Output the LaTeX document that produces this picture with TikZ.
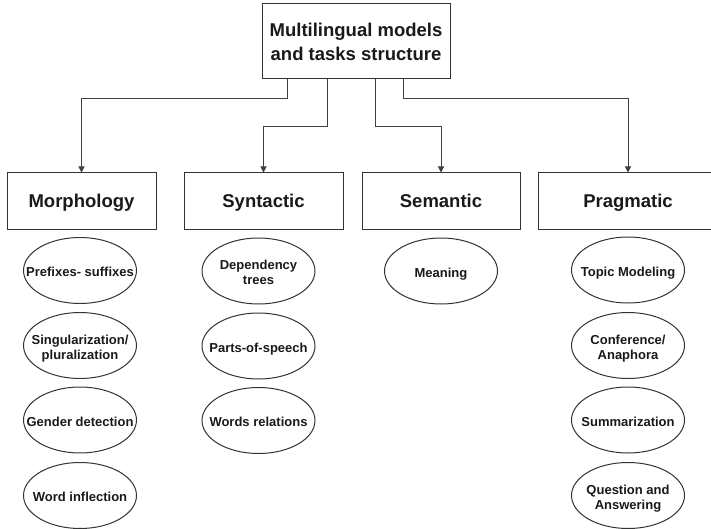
\documentclass[tikz,border=0pt]{standalone}
\usepackage{fontspec}
\setmainfont{Liberation Sans}
\usepackage{xcolor}
\usepackage{tikz}
\usetikzlibrary{arrows.meta,shapes.geometric}
\newcommand*{\headstyle}{\fontsize{18.5}{24}\selectfont\bfseries\color{black!90}}
\newcommand*{\ovalstyle}{\fontsize{13}{15}\selectfont\bfseries\color{black!90}}
\newcommand{\ovalnode}[4]{%
% name, x, y, text (lines split by \\)
  \node[oval] (#1) at (#2,#3)
    {\raisebox{-6pt}[0pt][0pt]{\makebox[0pt]{\begin{tabular}{@{}c@{}}#4\end{tabular}}}};
}
\tikzset{
  topbox/.style = {draw = black!80, line width = 1pt, font = \headstyle,
    align = center, minimum width = 188pt, minimum height = 75pt},
  levelbox/.style = {draw = black!80, line width = 1pt, font = \headstyle,
    text height = 17pt, text depth = 4pt, minimum height = 56pt},
  oval/.style = {ellipse, draw = black!80, line width = 1pt, font = \ovalstyle,
    inner sep = 0pt, minimum width = 113pt, minimum height = 66pt},
  conn/.style = {draw = black!75, line width = 1pt,
    -{Triangle[length = 6pt, width = 6pt]}}
}

\begin{document}
\begin{tikzpicture}[x = 1pt, y = -1pt]
    \useasboundingbox (0,0) rectangle (711,529);
    % root
    \node[topbox] (root) at (356,41.5) {Multilingual models\\and tasks structure};
    % the four levels
    \node[levelbox, minimum width = 149pt] (morph) at (81.5,201) {Morphology};
    \node[levelbox, minimum width = 159pt] (synt) at (263.5,201) {Syntactic};
    \node[levelbox, minimum width = 158pt] (sem) at (441,201) {Semantic};
    \node[levelbox, minimum width = 180pt] (prag) at (628,201) {Pragmatic};
    % connectors
    \draw[conn] ([xshift = -69pt]root.south) -- ++(0,19) -| (morph.north);
    \draw[conn] ([xshift = -29pt]root.south) -- ++(0,47) -| (synt.north);
    \draw[conn] ([xshift = 19pt]root.south) -- ++(0,47) -| (sem.north);
    \draw[conn] ([xshift = 47pt]root.south) -- ++(0,19) -| (prag.north);
    % morphology tasks
      \ovalnode{pref}{80}{270.5}{Prefixes- suffixes}
      \ovalnode{sing}{80}{345.5}{Singularization/\\pluralization}
      \ovalnode{gend}{80}{420}{Gender detection}
      \ovalnode{infl}{80}{495.5}{Word inflection}
    % syntactic tasks
      \ovalnode{dep}{258.5}{271}{Dependency\\trees}
      \ovalnode{pos}{258.5}{346}{Parts-of-speech}
      \ovalnode{rel}{258.5}{420.5}{Words relations}
    % semantic tasks
      \ovalnode{mean}{441}{271}{Meaning}
    % pragmatic tasks
      \ovalnode{topic}{628}{270}{Topic Modeling}
      \ovalnode{coref}{628}{345.5}{Conference/\\Anaphora}
      \ovalnode{summ}{628}{420}{Summarization}
      \ovalnode{qa}{628}{495.5}{Question and\\Answering}
  \end{tikzpicture}
\end{document}
